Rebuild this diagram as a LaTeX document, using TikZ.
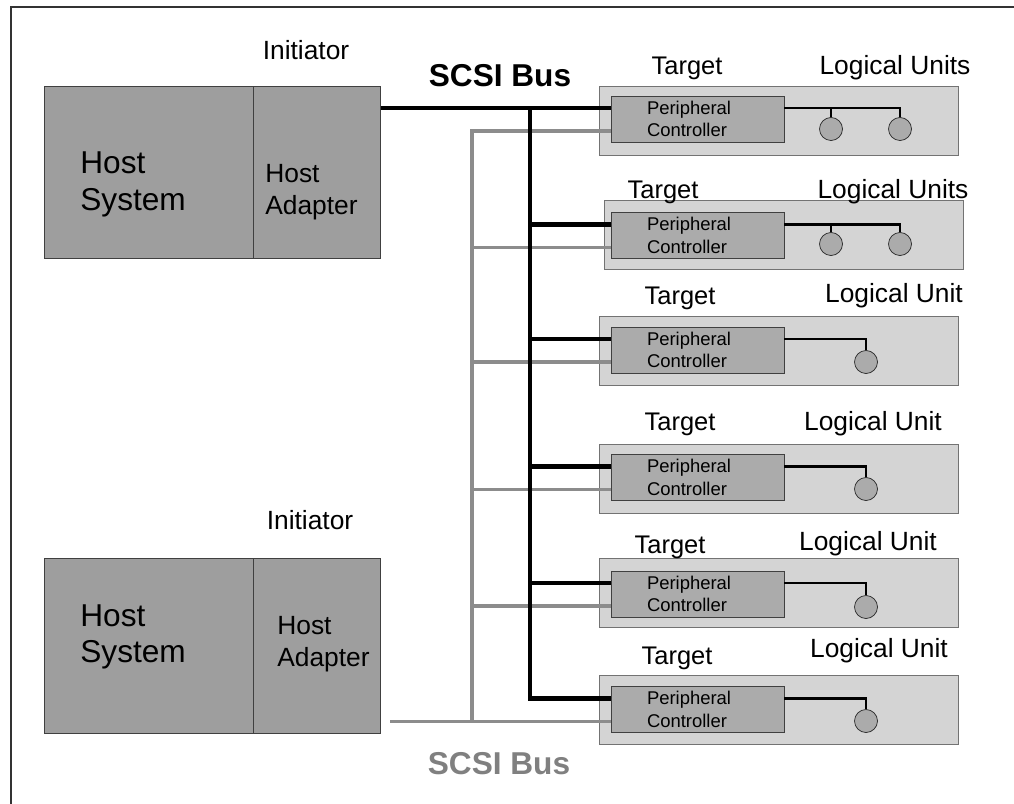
\documentclass[tikz,border=0pt]{standalone}
\usepackage{fontspec}
\setmainfont{Liberation Sans}
\usetikzlibrary{positioning, calc}

\begin{document}
\begin{tikzpicture}[
    x=0.02cm, y=-0.02cm,
    % --- STYLES ---
    host/.style={
        rectangle, draw=black!75, fill=black!38,
        minimum height=3.44cm, inner sep=0pt
    },
    hosttext/.style={anchor=west, align=left, inner sep=0pt},
    unitbox/.style={
        rectangle, draw=black!55, fill=black!17,
        minimum width=7.18cm, minimum height=1.38cm, inner sep=0pt
    },
    ctrl/.style={
        rectangle, draw=black!75, fill=black!33,
        minimum height=0.92cm, text width=2.02cm,
        inner xsep=0.72cm, inner ysep=0pt, align=left,
        font=\fontsize{10.5}{12.8}\selectfont
    },
    lu/.style={circle, draw=black!85, fill=black!33, minimum size=0.46cm, inner sep=0pt},
    tlabel/.style={font=\fontsize{14.5}{17}\selectfont},
    ulabel/.style={font=\fontsize{15}{18}\selectfont},
    ilabel/.style={font=\fontsize{15}{18}\selectfont},
    buslabel/.style={font=\bfseries\fontsize{18}{21}\selectfont},
    frame/.style={line width=1.1pt, black!80},
    bus/.style={line width=2.3pt},
    hatch/.style={line width=2pt, black!45},
    lunit/.style={line width=1.4pt}
]

% ===== 1. FRAME & COLUMNS =====
\useasboundingbox (0,0) rectangle (1014,804);
\draw[frame] (1014,7) -- (11,7) -- (11,804);

\def\xUnit{778.5}
\def\xCtrl{697.5}
\coordinate (busCol) at (530,0);
\coordinate (hatchCol) at (472,0);

% ===== 2. INITIATORS =====
\node[host, minimum width=4.18cm] (sys1) at (148.5,172) {};
\node[host, minimum width=2.54cm, right=0cm of sys1] (adp1) {};
\node[ilabel] (ini1) at (306,50) {Initiator};
\node[hosttext, font=\fontsize{18}{20.8}\selectfont] (sys1txt) at (80,184.5) {Host\\System};
\node[hosttext, font=\fontsize{15}{17.9}\selectfont] (adp1txt) at (265,192) {Host\\Adapter};

\node[host, minimum width=4.18cm, minimum height=3.5cm] (sys2) at (148.5,645.5) {};
\node[host, minimum width=2.54cm, minimum height=3.5cm, right=0cm of sys2] (adp2) {};
\node[ilabel] (ini2) at (310,520) {Initiator};
\node[hosttext, font=\fontsize{18}{20.8}\selectfont] (sys2txt) at (80,637) {Host\\System};
\node[hosttext, font=\fontsize{15}{17.9}\selectfont] (adp2txt) at (277,644) {Host\\Adapter};

\node[buslabel] (busTop) at (500,76) {SCSI Bus};
\node[buslabel, text=black!50] (busLow) at (499,764) {SCSI Bus};

% ===== 3. TARGETS =====
\node[unitbox] (t1) at (\xUnit,120.5) {};
\node[ctrl] (c1) at (\xCtrl,119) {Peripheral\\Controller};
\node[lu] (u1a) at (831,129) {};
\node[lu] (u1b) at (900,129) {};

\node[unitbox] (t2) at (783.5,234.5) {};
\node[ctrl] (c2) at (\xCtrl,235.5) {Peripheral\\Controller};
\node[lu] (u2a) at (831,244) {};
\node[lu] (u2b) at (900,244) {};

\node[unitbox] (t3) at (\xUnit,351) {};
\node[ctrl] (c3) at (\xCtrl,350) {Peripheral\\Controller};
\node[lu] (u3) at (866,362) {};

\node[unitbox] (t4) at (\xUnit,478.5) {};
\node[ctrl] (c4) at (\xCtrl,477.5) {Peripheral\\Controller};
\node[lu] (u4) at (866,489) {};

\node[unitbox] (t5) at (\xUnit,593) {};
\node[ctrl] (c5) at (\xCtrl,594) {Peripheral\\Controller};
\node[lu] (u5) at (866,607) {};

\node[unitbox] (t6) at (779,709.5) {};
\node[ctrl] (c6) at (\xCtrl,709.5) {Peripheral\\Controller};
\node[lu] (u6) at (866,721) {};

% Labels above the targets
\node[tlabel] (tl1) at (687,68) {Target};
\node[ulabel] (ul1) at (895,68) {Logical Units};
\node[tlabel] (tl2) at (663,192) {Target};
\node[ulabel] (ul2) at (893,192) {Logical Units};
\node[tlabel] (tl3) at (680,298) {Target};
\node[ulabel] (ul3) at (894,296) {Logical Unit};
\node[tlabel] (tl4) at (680,424) {Target};
\node[ulabel] (ul4) at (873,424) {Logical Unit};
\node[tlabel] (tl5) at (670,547) {Target};
\node[ulabel] (ul5) at (868,544) {Logical Unit};
\node[tlabel] (tl6) at (677,658) {Target};
\node[ulabel] (ul6) at (879,651) {Logical Unit};

% ===== 4. CONNECTIONS =====
\coordinate (b1) at ($(c1.west)+(0,-11)$);
\coordinate (b2) at ($(c2.west)+(0,-11)$);
\coordinate (b3) at ($(c3.west)+(0,-11)$);
\coordinate (b4) at ($(c4.west)+(0,-11)$);
\coordinate (b5) at ($(c5.west)+(0,-11)$);
\coordinate (b6) at ($(c6.west)+(0,-11)$);
\coordinate (d1) at ($(c1.west)+(0,12)$);
\coordinate (d2) at ($(c2.west)+(0,12)$);
\coordinate (d3) at ($(c3.west)+(0,12)$);
\coordinate (d4) at ($(c4.west)+(0,12)$);
\coordinate (d5) at ($(c5.west)+(0,12)$);
\coordinate (d6) at ($(c6.west)+(0,12)$);

% -- Hatched bus from the second initiator --
\coordinate (hb) at ([xshift=0.18cm]adp2.east |- d6);
\draw[hatch] (d1) -- (d1 -| hatchCol) -- (d6 -| hatchCol);
\draw[hatch] (hb) -- (d6);
\draw[hatch] (d2 -| hatchCol) -- (d2);
\draw[hatch] (d3 -| hatchCol) -- (d3);
\draw[hatch] (d4 -| hatchCol) -- (d4);
\draw[hatch] (d5 -| hatchCol) -- (d5);

% -- Solid bus from the first initiator --
\draw[bus] (adp1.east |- b1) -- (b1);
\draw[bus] (b1 -| busCol) -- (b6 -| busCol) -- (b6);
\draw[bus] (b2 -| busCol) -- (b2);
\draw[bus] (b3 -| busCol) -- (b3);
\draw[bus] (b4 -| busCol) -- (b4);
\draw[bus] (b5 -| busCol) -- (b5);

% -- Logical units --
\draw[lunit] (c1.east |- b1) -| (u1b.north);
\draw[lunit] (u1a.north |- b1) -- (u1a.north);
\draw[lunit] (c2.east |- b2) -| (u2b.north);
\draw[lunit] (u2a.north |- b2) -- (u2a.north);
\draw[lunit] (c3.east |- b3) -| (u3.north);
\draw[lunit] (c4.east |- b4) -| (u4.north);
\draw[lunit] (c5.east |- b5) -| (u5.north);
\draw[lunit] (c6.east |- b6) -| (u6.north);

\end{tikzpicture}
\end{document}
